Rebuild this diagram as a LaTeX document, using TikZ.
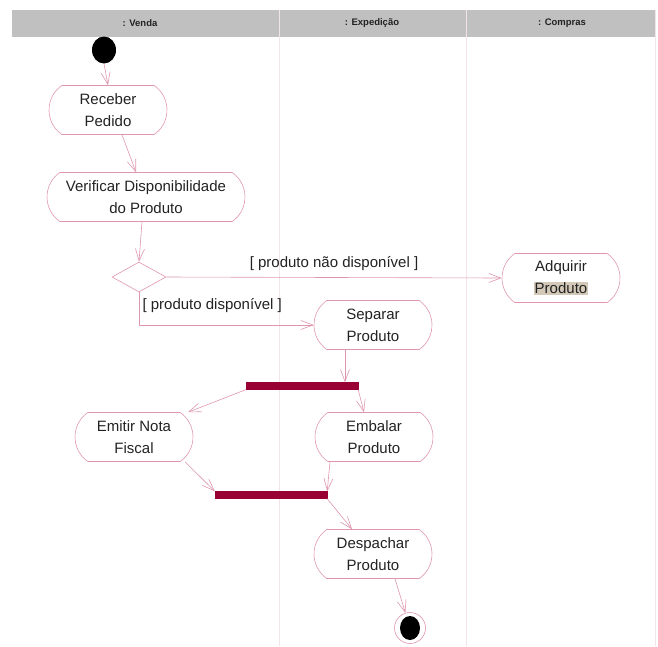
\documentclass[tikz,border=0pt]{standalone}
\usepackage{fontspec}
\setmainfont{Liberation Sans}
\usetikzlibrary{shapes.misc,shapes.geometric,arrows.meta}
\definecolor{linepink}{RGB}{222,150,172}
\definecolor{lanepink}{RGB}{242,228,233}
\definecolor{headgrey}{RGB}{192,192,192}
\definecolor{barred}{RGB}{153,0,51}
\definecolor{marktan}{RGB}{212,200,184}
\definecolor{inkgrey}{RGB}{34,34,34}
\tikzset{
  activity/.style={rounded rectangle,rounded rectangle arc length=110,draw=linepink,line width=0.6pt,
    minimum width=126pt,minimum height=49pt,align=center,text=inkgrey,inner xsep=4pt,
    font=\fontsize{15}{22}\selectfont},
  syncbar/.style={rectangle,fill=barred,draw=barred,minimum width=112pt,minimum height=7pt,inner sep=0pt},
  flow/.style={draw=linepink,line width=0.6pt,-{Straight Barb[length=12pt,width=9pt]}},
  guard/.style={text=inkgrey,font=\fontsize{15}{18}\selectfont},
  lanehead/.style={text=inkgrey,font=\bfseries\fontsize{9.5}{11}\selectfont}
}
\begin{document}
\begin{tikzpicture}[x=1pt,y=-1pt]
\useasboundingbox (0,0) rectangle (658,646);
\fill[headgrey] (12,10) rectangle (655,37);
\foreach \x in {279,466,655}\draw[lanepink] (\x,10) -- (\x,646);
\node[lanehead] (venda) at (140,23) {: Venda};
\node[lanehead] (exped) at (372,23) {: Expedição};
\node[lanehead] (compr) at (562,23) {: Compras};
\node[ellipse,fill=black,minimum width=24pt,minimum height=27pt,inner sep=0pt] (start) at (104,50) {};
\node[activity] (recv) at (108,110) {Receber\\Pedido};
\node[activity,minimum width=206pt] (verif) at (146,197) {Verificar Disponibilidade\\do Produto};
\node[diamond,draw=linepink,line width=0.6pt,minimum width=54pt,minimum height=30pt,inner sep=0pt] (dec) at (139,277) {};
\node[activity] (buy) at (561,278) {Adquirir\\{\setlength{\fboxsep}{1pt}\colorbox{marktan}{Produto}}};
\node[activity] (sep) at (373,325) {Separar\\Produto};
\node[syncbar] (fork) at (302,386) {};
\node[activity] (emit) at (134,437) {Emitir Nota\\Fiscal};
\node[activity] (emb) at (374,437) {Embalar\\Produto};
\node[syncbar] (join) at (271,495) {};
\node[activity] (desp) at (373,554) {Despachar\\Produto};
\node[circle,draw=linepink,line width=0.6pt,minimum size=31pt,inner sep=0pt] (end) at (410,628) {};
\fill (end) ellipse (10pt and 12pt);
\draw[flow] (start.south) -- (recv.north);
\draw[flow] ([xshift=14pt]recv.south) -- ([xshift=-10pt]verif.north);
\draw[flow] ([xshift=-4pt]verif.south) -- (dec.north);
\draw[flow] (dec.east) -- node[guard,above=3pt] {[ produto não disponível ]} (buy.west);
\draw[flow] (dec.south) |- (sep.west);
\node[guard,anchor=west] (okguard) at (139,306) {[ produto disponível ]};
\draw[flow] ([xshift=-28pt]sep.south) -- ([xshift=43pt]fork.north);
\draw[flow] (fork.south west) -- ([xshift=54pt]emit.north);
\draw[flow] (fork.south east) -- ([xshift=-10pt]emb.north);
\draw[flow] ([xshift=51pt]emit.south) -- (join.north west);
\draw[flow] ([xshift=-44pt]emb.south) -- (join.north east);
\draw[flow] (join.south east) -- ([xshift=-21pt]desp.north);
\draw[flow] ([xshift=22pt]desp.south) -- (end);
\end{tikzpicture}
\end{document}
